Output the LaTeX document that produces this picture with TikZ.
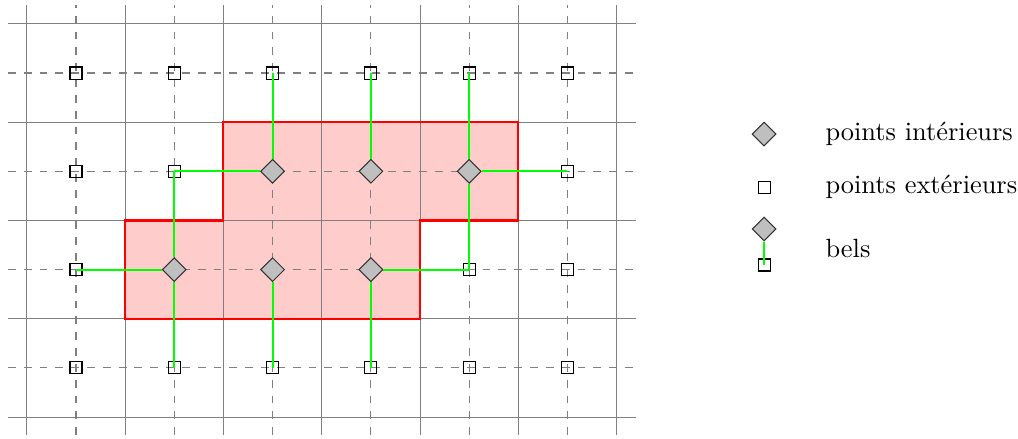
\documentclass[tikz,border=0pt]{standalone}
\usepackage{tikz}
\usetikzlibrary{shapes.geometric}

\begin{document}
\begin{tikzpicture}[x=1.31cm,y=1.31cm,
  gridline/.style={gray,thin},
  halfline/.style={gray,thin,dashed},
  regionfill/.style={fill=red!20},
  regionedge/.style={draw=red,thick},
  inpoint/.style={diamond,draw=black!80,fill=gray!50,minimum size=0.32cm,inner sep=0pt},
  outpoint/.style={rectangle,draw=black,minimum size=0.16cm,inner sep=0pt},
  bel/.style={green,line width=0.7pt},
  keytext/.style={anchor=west,inner sep=0pt}]
  \useasboundingbox (0.227,0.278) rectangle (10.583,4.743);
  % region
  \fill[regionfill] (2.5,3.5) -- (5.5,3.5) -- (5.5,2.5) -- (4.5,2.5) -- (4.5,1.5)
    -- (1.5,1.5) -- (1.5,2.5) -- (2.5,2.5) -- cycle;
  % grid
  \foreach \x in {0.5,1.5,...,6.5} \draw[gridline] (\x,0.317) -- (\x,4.69);
  \foreach \y in {0.5,1.5,...,4.5} \draw[gridline] (0.307,\y) -- (6.7,\y);
  \foreach \x in {1,...,6} \draw[halfline] (\x,0.317) -- (\x,4.69);
  \foreach \y in {1,...,4} \draw[halfline] (0.307,\y) -- (6.7,\y);
  \draw[regionedge] (2.5,3.5) -- (5.5,3.5) -- (5.5,2.5) -- (4.5,2.5) -- (4.5,1.5)
    -- (1.5,1.5) -- (1.5,2.5) -- (2.5,2.5) -- cycle;
  % points
  \foreach \i/\j in {1/4,2/4,3/4,4/4,5/4,6/4,1/3,2/3,6/3,1/2,5/2,6/2,1/1,2/1,3/1,4/1,5/1,6/1}
    \node[outpoint] (s\i\j) at (\i,\j) {};
  \foreach \i/\j in {3/3,4/3,5/3,2/2,3/2,4/2}
    \node[inpoint] (d\i\j) at (\i,\j) {};
  % bels
  \foreach \a/\b in {33/34,33/23,43/44,53/54,53/63,53/52,22/12,22/23,22/21,32/31,42/52,42/41}
    \draw[bel] (d\a) -- (s\b.center);
  % legend
  \node[inpoint] (keyin) at (8,3.379) {};
  \node[keytext] (keyintext) at (8.62,3.379) {points intérieurs};
  \node[outpoint] (keyout) at (8,2.84) {};
  \node[keytext] (keyouttext) at (8.62,2.84) {points extérieurs};
  \node[inpoint] (keybelin) at (8,2.413) {};
  \node[outpoint] (keybelout) at (8,2.047) {};
  \draw[bel] (keybelin) -- (keybelout.center);
  \node[keytext] (keybeltext) at (8.62,2.21) {bels};
\end{tikzpicture}
\end{document}
